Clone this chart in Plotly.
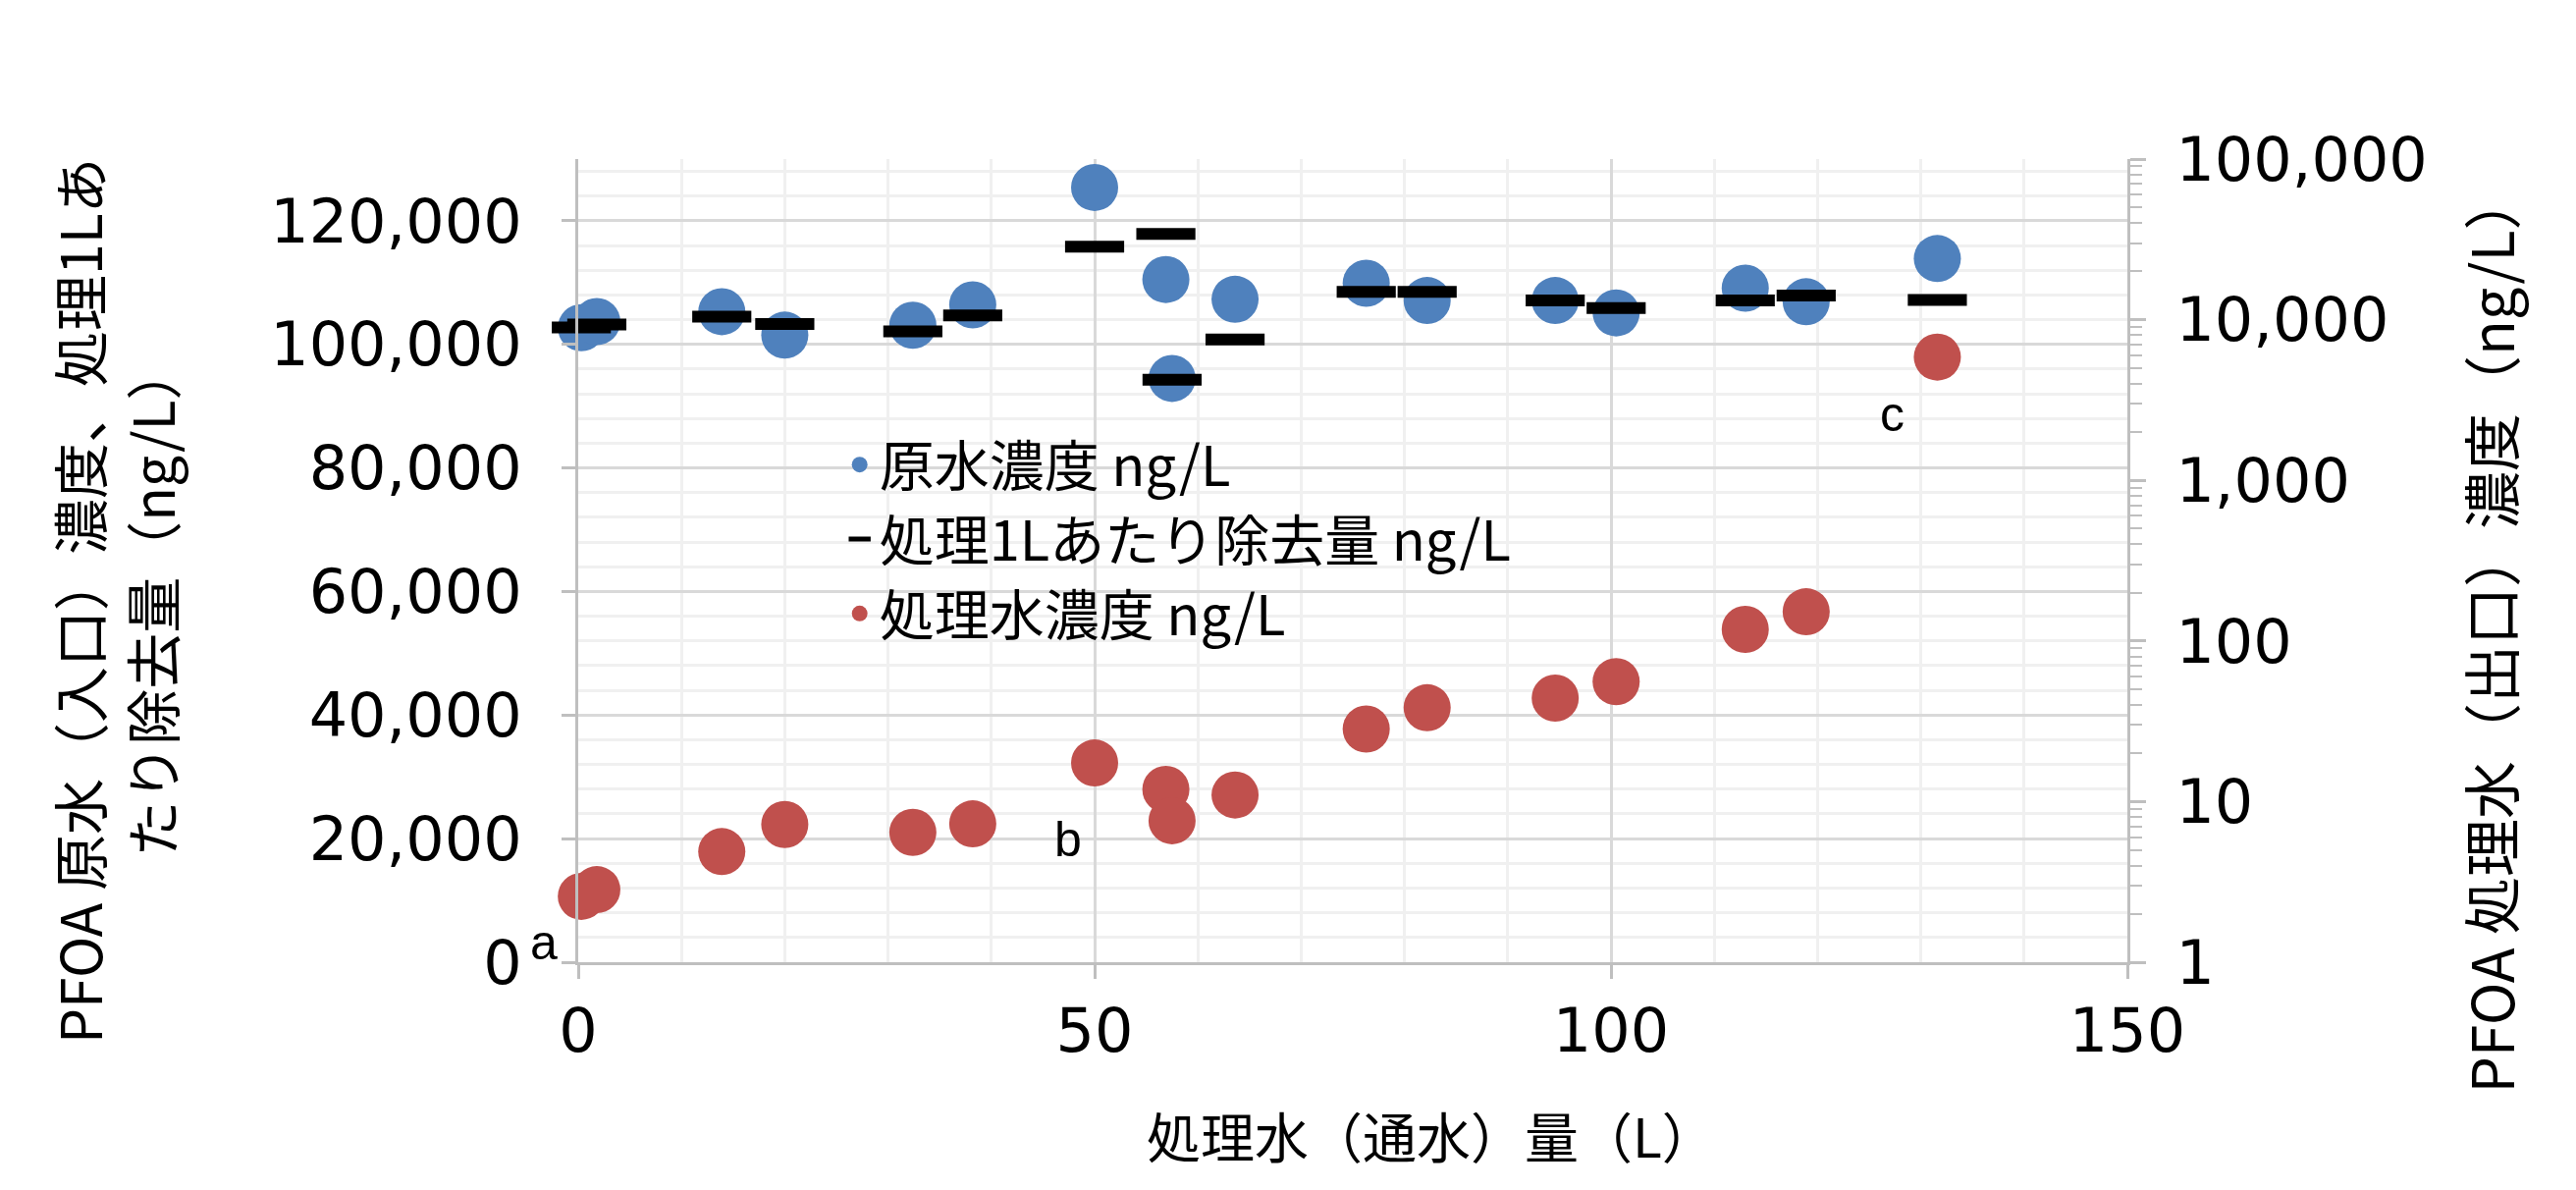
import plotly.graph_objects as go

# ---- data ----
volume_L = [0.3, 1.8, 13.9, 20.0, 32.4, 38.2, 50.0, 56.9, 57.5, 63.6,
            76.3, 82.2, 94.6, 100.5, 113.0, 118.9, 131.6]
raw_conc = [102700, 103700, 105300, 101500, 103100, 106400, 125400, 110500, 94500, 107300,
            109900, 107100, 107100, 105100, 109100, 106900, 113900]
removal_per_L = [102760, 103240, 104500, 103300, 102100, 104700, 115800, 117900, 94300, 100800,
                 108500, 108500, 107100, 105900, 107100, 107900, 107200]
treated_conc = [2.57, 2.83, 4.88, 7.2, 6.43, 7.27, 17.4, 11.9, 7.6, 11.0,
                28.3, 38.4, 44.1, 55.8, 118, 152, 5850]

series_names = ["原水濃度 ng/L", "処理1Lあたり除去量 ng/L", "処理水濃度 ng/L"]
point_labels = ["a", "b", "c"]
label_x = [-0.022, 0.316, 0.848]   # paper fractions
label_y = [0.025, 0.153, 0.682]

x_title = "処理水（通水）量（L）"
y_title = "PFOA 原水（入口）濃度、処理1Lあ<br>たり除去量（ng/L）"
y2_title = "PFOA 処理水（出口）濃度（ng/L）"

JP = "Noto Sans CJK JP"
NUM = "DejaVu Sans"
BLUE = "#4F81BD"
RED = "#C0504D"
AX = "#bfbfbf"
GRID = "#d9d9d9"
MINOR = "#f0f0f0"

fig = go.Figure()
fig.add_trace(go.Scatter(x=volume_L, y=raw_conc, mode="markers", name=series_names[0],
                         cliponaxis=False,
                         marker=dict(size=48, color=BLUE, line=dict(width=0)), yaxis="y"))
fig.add_trace(go.Scatter(x=volume_L, y=removal_per_L, mode="markers", name=series_names[1],
                         cliponaxis=False,
                         marker=dict(symbol="line-ew", size=43, color="black",
                                     line=dict(width=12, color="black")), yaxis="y"))
fig.add_trace(go.Scatter(x=volume_L, y=treated_conc, mode="markers", name=series_names[2],
                         cliponaxis=False,
                         marker=dict(size=48, color=RED, line=dict(width=0)), yaxis="y2"))

annotations = []
for t, xx, yy in zip(point_labels, label_x, label_y):
    annotations.append(dict(text=t, x=xx, y=yy, xref="paper", yref="paper", showarrow=False,
                            font=dict(family="Liberation Sans", size=50, color="black"),
                            xanchor="center", yanchor="middle"))
annotations.append(dict(text=x_title, x=0.5505, y=-0.214, xref="paper", yref="paper",
                        showarrow=False, xanchor="center", yanchor="middle",
                        font=dict(family=JP, size=55, color="black")))
annotations.append(dict(text=y_title, x=-0.2997, y=0.45, xref="paper", yref="paper",
                        showarrow=False, xanchor="center", yanchor="middle", textangle=-90,
                        font=dict(family=JP, size=57, color="black")))
annotations.append(dict(text=y2_title, x=1.2338, y=0.41, xref="paper", yref="paper",
                        showarrow=False, xanchor="center", yanchor="middle", textangle=-90,
                        font=dict(family=JP, size=59, color="black")))

tickfont = dict(family=NUM, size=62, color="black")

fig.update_layout(
    width=2624, height=1212,
    margin=dict(l=589, r=457, t=162, b=232, pad=0),
    paper_bgcolor="white", plot_bgcolor="white",
    showlegend=True,
    legend=dict(x=0.169, y=0.672, xanchor="left", yanchor="top",
                bgcolor="rgba(0,0,0,0)", font=dict(family=JP, size=56, color="black"),
                itemsizing="trace"),
    annotations=annotations,
    xaxis=dict(range=[0, 150], dtick=50, tick0=0, showgrid=True, gridcolor=GRID, gridwidth=3,
               minor=dict(dtick=10, showgrid=True, gridcolor=MINOR, gridwidth=3),
               showline=True, linecolor=AX, linewidth=3, ticks="outside", ticklen=14,
               tickcolor=AX, tickwidth=3, zeroline=False, tickfont=tickfont),
    yaxis=dict(range=[0, 130000], dtick=20000, tick0=0, tickformat=",d",
               showgrid=True, gridcolor=GRID, gridwidth=3,
               minor=dict(dtick=4000, showgrid=True, gridcolor=MINOR, gridwidth=3),
               showline=True, linecolor=AX, linewidth=3, ticks="outside", ticklen=14,
               tickcolor=AX, tickwidth=3, zeroline=False, tickfont=tickfont,
               ticklabelstandoff=28),
    yaxis2=dict(type="log", range=[0, 5], dtick=1, tickformat=",d", overlaying="y", side="right",
                showgrid=False, showline=True, linecolor=AX, linewidth=3,
                ticks="outside", ticklen=16, tickcolor=AX, tickwidth=3, zeroline=False,
                minor=dict(ticks="outside", ticklen=12, tickcolor=AX, tickwidth=2, showgrid=False),
                tickfont=tickfont, ticklabelstandoff=18),
)

fig.write_html("out.html")
